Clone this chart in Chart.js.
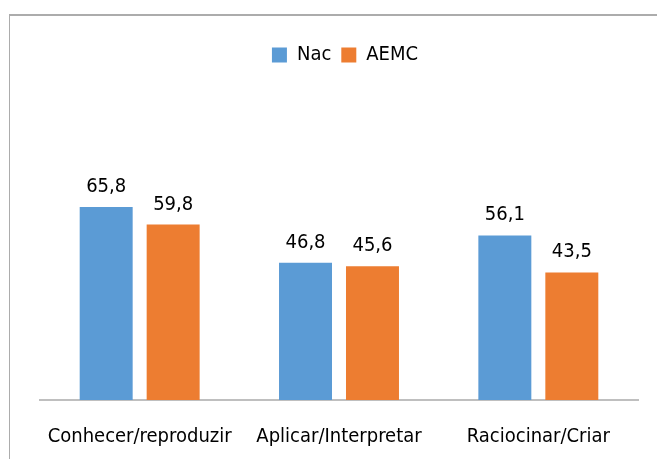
<!DOCTYPE html>
<html>
<head>
<meta charset="utf-8">
<script src="https://cdn.jsdelivr.net/npm/chart.js@4.4.1/dist/chart.umd.min.js"></script>
<style>
  html, body { margin: 0; padding: 0; background: #fff; overflow: hidden; }
  .wrap { position: relative; width: 657px; height: 459px; }
  .frame {
    position: absolute; left: 9px; top: 14px; width: 700px; height: 500px;
    border-top: 2px solid #acacac; border-left: 1px solid #acacac;
  }
  canvas { position: absolute; left: 0; top: 0; }
</style>
</head>
<body>
<div class="wrap">
  <div class="frame"></div>
  <canvas id="chart" width="657" height="459"></canvas>
</div>
<script>
const categories = ['Conhecer/reproduzir', 'Aplicar/Interpretar', 'Raciocinar/Criar'];
const nacValues = [65.8, 46.8, 56.1];
const aemcValues = [59.8, 45.6, 43.5];

const FONT = "'DejaVu Sans Condensed', 'Liberation Sans Narrow', sans-serif";

// draws the value above each bar, with a decimal comma
const barLabels = {
  id: 'barLabels',
  afterDatasetsDraw(chart) {
    const { ctx } = chart;
    ctx.save();
    ctx.font = `20px ${FONT}`;
    ctx.fillStyle = '#000';
    ctx.textAlign = 'center';
    ctx.textBaseline = 'alphabetic';
    chart.data.datasets.forEach((ds, i) => {
      chart.getDatasetMeta(i).data.forEach((bar, j) => {
        const txt = ds.data[j].toFixed(1).replace('.', ',');
        ctx.fillText(txt, bar.x, bar.y - 15);
      });
    });
    ctx.restore();
  },
};

// legend sits a little right of centre in the original
const legendNudge = {
  id: 'legendNudge',
  afterLayout(chart) {
    chart.legend.left += 6;
    chart.legend.right += 6;
  },
};

new Chart(document.getElementById('chart'), {
  type: 'bar',
  data: {
    labels: categories,
    datasets: [
      {
        label: 'Nac',
        data: nacValues,
        backgroundColor: '#5B9BD5',
        categoryPercentage: 0.672,
        barPercentage: 0.791,
      },
      {
        label: 'AEMC',
        data: aemcValues,
        backgroundColor: '#ED7D31',
        categoryPercentage: 0.672,
        barPercentage: 0.791,
      },
    ],
  },
  options: {
    responsive: false,
    animation: false,
    layout: {
      padding: { top: 35, left: 40, right: 19, bottom: 0 },
    },
    plugins: {
      legend: {
        position: 'top',
        labels: {
          boxWidth: 15,
          boxHeight: 15,
          padding: 10,
          color: '#000',
          font: { family: FONT, size: 20 },
        },
      },
      tooltip: { enabled: false },
    },
    scales: {
      x: {
        grid: { display: false, drawTicks: false, tickLength: 0 },
        border: { display: true, color: '#bfbfbf', width: 2 },
        ticks: {
          color: '#000',
          font: { family: FONT, size: 20 },
          padding: 25,
          maxRotation: 0,
          autoSkip: false,
        },
        afterFit(scale) {
          scale.height = 59;
        },
      },
      y: {
        display: false,
        min: 0,
        max: 110.8,
      },
    },
  },
  plugins: [barLabels, legendNudge],
});
</script>
</body>
</html>
